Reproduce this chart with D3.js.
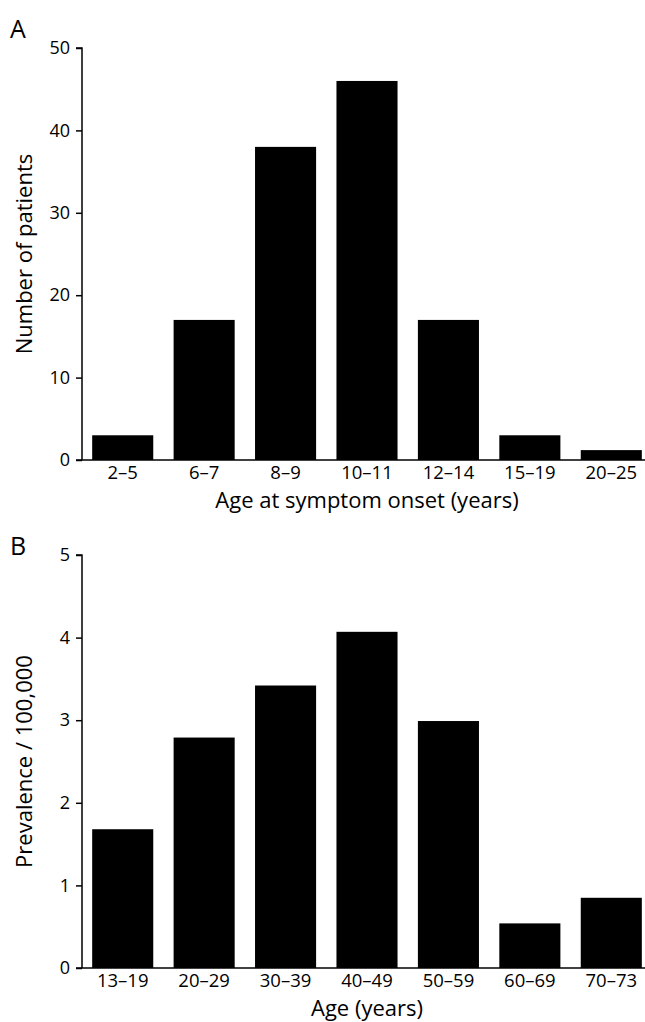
<!DOCTYPE html>
<html><head><meta charset="utf-8">
<script src="https://cdn.jsdelivr.net/npm/d3@7"></script>
<style>body{margin:0;background:#fff}text{font-family:"Open Sans",sans-serif;fill:#000}</style>
</head><body>
<svg id="c" width="645" height="1022"></svg>
<script>
const catsA=["2–5","6–7","8–9","10–11","12–14","15–19","20–25"];
const valsA=[3,17,38,46,17,3,1.2];
const ticksA=[0,10,20,30,40,50];
const catsB=["13–19","20–29","30–39","40–49","50–59","60–69","70–73"];
const valsB=[1.68,2.79,3.42,4.07,2.99,0.54,0.85];
const ticksB=[0,1,2,3,4,5];
const svg=d3.select("#c");
function panel(cats,vals,ticks,max,top,bottom,letter,letterY,xlabel,ylabel){
  const x=d3.scaleBand().domain(cats).range([82,652]).paddingInner(0.25).paddingOuter(0.125);
  const y=d3.scaleLinear().domain([0,max]).range([bottom,top]);
  const g=svg.append("g");
  g.selectAll("rect").data(vals).join("rect").attr("x",(d,i)=>x(cats[i])).attr("width",x.bandwidth())
   .attr("y",d=>y(d)).attr("height",d=>bottom-y(d)).attr("fill","#000");
  const ya=g.append("g").attr("transform","translate(82,0)").call(d3.axisLeft(y).tickValues(ticks).tickFormat(d3.format("d")).tickSize(6).tickPadding(6));
  ya.selectAll("text").style("font-size","18px");
  ya.select(".domain").attr("d",`M-6,${top}H0V${bottom}`).attr("stroke-width",1.5);
  ya.selectAll("line").attr("stroke-width",1.5);
  const xa=g.append("g").attr("transform",`translate(0,${bottom})`).call(d3.axisBottom(x).tickSize(0).tickPadding(6));
  xa.select(".domain").attr("d",`M76,0H645`).attr("stroke-width",1.5);
  xa.selectAll("text").style("font-size","18.5px");
  g.append("text").attr("x",367).attr("y",bottom+48).attr("text-anchor","middle").style("font-size","22px").text(xlabel);
  g.append("text").attr("transform",`translate(32,${(top+bottom)/2}) rotate(-90)`).attr("text-anchor","middle").style("font-size","22px").text(ylabel);
  g.append("text").attr("x",10).attr("y",letterY).style("font-size","25px").text(letter);
}
panel(catsA,valsA,ticksA,50,48,460,"A",38,"Age at symptom onset (years)","Number of patients");
panel(catsB,valsB,ticksB,5,555,968,"B",555,"Age (years)","Prevalence / 100,000");
</script></body></html>
